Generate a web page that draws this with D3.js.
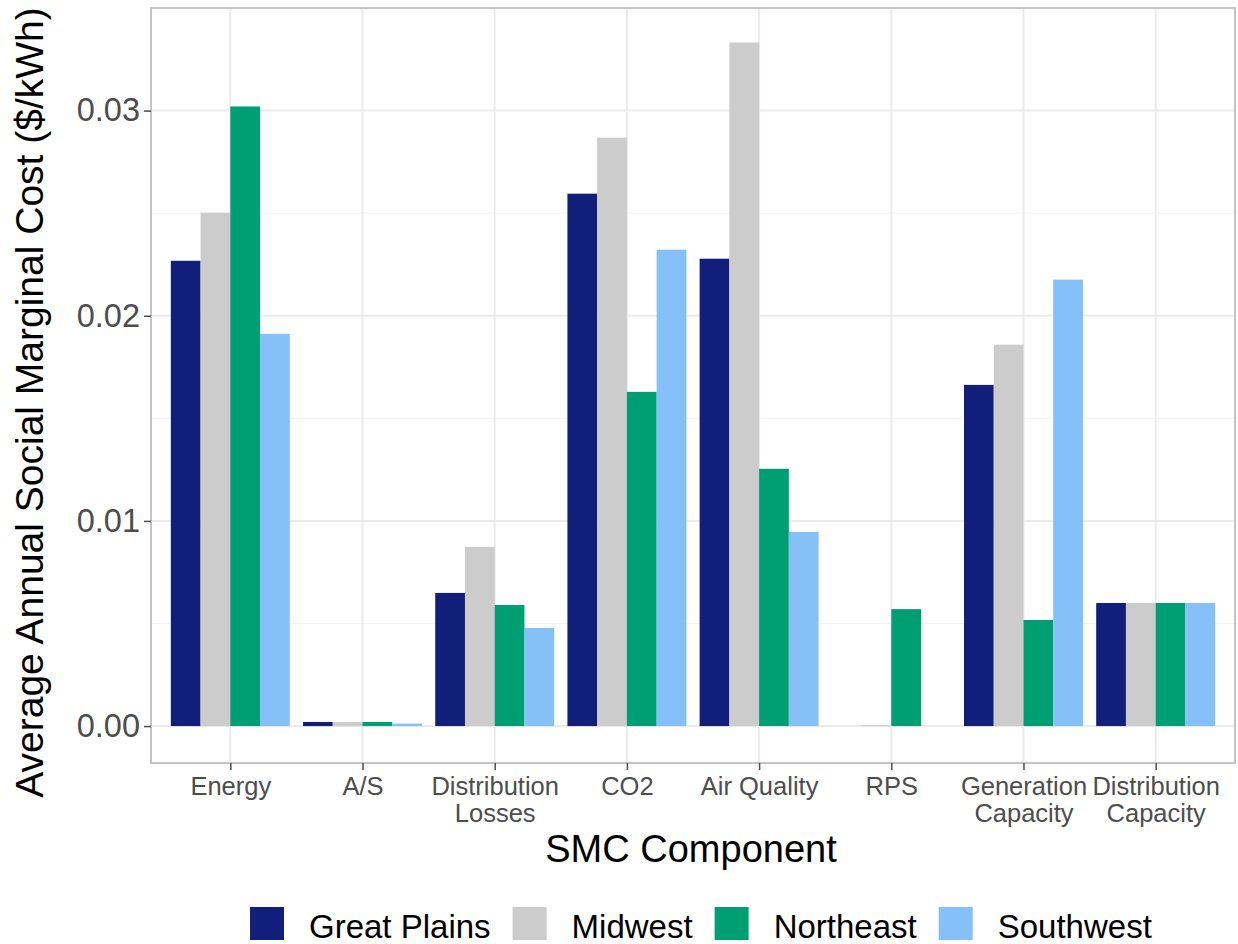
<!DOCTYPE html>
<html>
<head>
<meta charset="utf-8">
<script src="https://cdn.jsdelivr.net/npm/d3@7"></script>
<style>
  html, body { margin: 0; padding: 0; background: #fff; }
  text { font-family: "Liberation Sans", Arial, sans-serif; }
</style>
</head>
<body>
<svg id="chart" width="1238" height="944"></svg>
<script>
// ---- data ----
const categories = ["Energy", "A/S", "Distribution Losses", "CO2", "Air Quality", "RPS", "Generation Capacity", "Distribution Capacity"];
const categoryLabels = [["Energy"], ["A/S"], ["Distribution", "Losses"], ["CO2"], ["Air Quality"], ["RPS"], ["Generation", "Capacity"], ["Distribution", "Capacity"]];
const regions = ["Great Plains", "Midwest", "Northeast", "Southwest"];
const greatPlains = [0.02268, 0.0002, 0.00649, 0.02595, 0.02278, 0, 0.01663, 0.00600];
const midwest     = [0.02502, 0.0002, 0.00873, 0.02868, 0.03332, 0.00005, 0.01859, 0.00600];
const northeast   = [0.03020, 0.0002, 0.00590, 0.01629, 0.01254, 0.00570, 0.00517, 0.00600];
const southwest   = [0.01912, 0.00012, 0.00478, 0.02322, 0.00946, 0, 0.02176, 0.00600];
const yTicks = [0, 0.01, 0.02, 0.03];
const yMinorTicks = [0.005, 0.015, 0.025];
const colors = ["#111F7A", "#CCCCCC", "#009E73", "#85C0F9"];

const seriesValues = [greatPlains, midwest, northeast, southwest];

// ---- layout ----
const svg = d3.select("#chart");
const panel = { left: 151, right: 1235, top: 8, bottom: 763 };

const x = d3.scalePoint().domain(categories).range([panel.left, panel.right]).padding(0.6);
const step = x.step();
const xSub = d3.scaleBand().domain(regions).range([-0.45 * step, 0.45 * step]).padding(0);
const y = d3.scaleLinear().domain([-0.0018, 0.0350]).range([panel.bottom, panel.top]);
const color = d3.scaleOrdinal().domain(regions).range(colors);

// background
svg.append("rect").attr("x", panel.left).attr("y", panel.top)
  .attr("width", panel.right - panel.left).attr("height", panel.bottom - panel.top)
  .attr("fill", "#fff");

// minor grid
svg.append("g").selectAll("line").data(yMinorTicks).join("line")
  .attr("x1", panel.left).attr("x2", panel.right)
  .attr("y1", d => y(d)).attr("y2", d => y(d))
  .attr("stroke", "#f3f3f3").attr("stroke-width", 1.2);

// major grid
svg.append("g").selectAll("line").data(yTicks).join("line")
  .attr("x1", panel.left).attr("x2", panel.right)
  .attr("y1", d => y(d)).attr("y2", d => y(d))
  .attr("stroke", "#ebebeb").attr("stroke-width", 2);
svg.append("g").selectAll("line").data(categories).join("line")
  .attr("x1", d => x(d)).attr("x2", d => x(d))
  .attr("y1", panel.top).attr("y2", panel.bottom)
  .attr("stroke", "#ebebeb").attr("stroke-width", 2);

// bars
const barData = [];
categories.forEach((c, i) => {
  regions.forEach((r, j) => barData.push({ cat: c, region: r, value: seriesValues[j][i] }));
});
svg.append("g").selectAll("rect").data(barData).join("rect")
  .attr("x", d => x(d.cat) + xSub(d.region))
  .attr("width", xSub.bandwidth())
  .attr("y", d => Math.min(y(d.value), y(0)))
  .attr("height", d => Math.abs(y(0) - y(d.value)))
  .attr("fill", d => color(d.region));

// panel border
svg.append("rect").attr("x", panel.left).attr("y", panel.top)
  .attr("width", panel.right - panel.left).attr("height", panel.bottom - panel.top)
  .attr("fill", "none").attr("stroke", "#c4c4c4").attr("stroke-width", 2);

// y axis
const yAxis = d3.axisLeft(y).tickValues(yTicks).tickFormat(d3.format(".2f")).tickSize(7).tickPadding(4);
const gy = svg.append("g").attr("transform", `translate(${panel.left},0)`).call(yAxis);
gy.select(".domain").remove();
gy.selectAll(".tick line").attr("stroke", "#4d4d4d").attr("stroke-width", 1.5);
gy.selectAll(".tick text").attr("fill", "#4d4d4d").style("font-size", "32.5px")
  .attr("font-family", "Liberation Sans, Arial, sans-serif");

// x axis
const xAxis = d3.axisBottom(x).tickSize(7).tickFormat(() => "");
const gx = svg.append("g").attr("transform", `translate(0,${panel.bottom})`).call(xAxis);
gx.select(".domain").remove();
gx.selectAll(".tick line").attr("stroke", "#4d4d4d").attr("stroke-width", 1.5);
gx.selectAll(".tick text").remove();
gx.selectAll(".tick").each(function(d, i) {
  const t = d3.select(this).append("text")
    .attr("text-anchor", "middle")
    .attr("fill", "#4d4d4d")
    .style("font-size", "25.5px");
  categoryLabels[i].forEach((line, k) => {
    t.append("tspan").attr("x", 0).attr("y", 32 + k * 27).text(line);
  });
});

// axis titles
svg.append("text")
  .attr("x", (panel.left + panel.right) / 2 - 2).attr("y", 862)
  .attr("text-anchor", "middle").attr("fill", "#000")
  .style("font-size", "38px").text("SMC Component");

svg.append("text")
  .attr("transform", `translate(43,${(panel.top + panel.bottom) / 2 + 17}) rotate(-90)`)
  .attr("text-anchor", "middle").attr("fill", "#000")
  .style("font-size", "39px").text("Average Annual Social Marginal Cost ($/kWh)");

// legend
const legend = svg.append("g");
let lx = 250;
regions.forEach((r, i) => {
  legend.append("rect").attr("x", lx).attr("y", 907).attr("width", 34).attr("height", 33)
    .attr("fill", color(r));
  const t = legend.append("text").attr("x", lx + 34 + 25).attr("y", 938)
    .attr("fill", "#000").style("font-size", "33px").text(r);
  const w = t.node().getComputedTextLength();
  lx = lx + 34 + 25 + w + 22;
});
</script>
</body>
</html>
